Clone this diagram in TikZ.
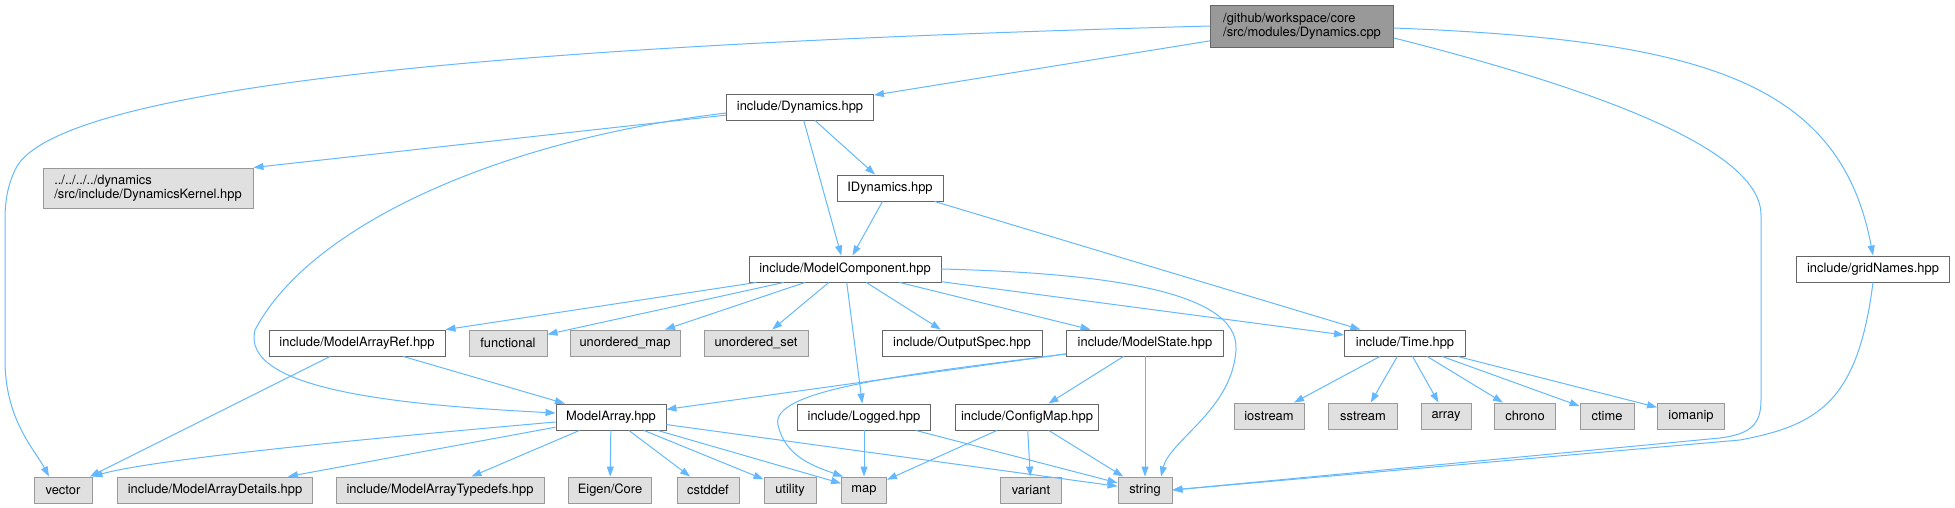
\documentclass[tikz,border=0pt]{standalone}
\usepackage{fontspec}
\setmainfont{TeX Gyre Heros}
\usetikzlibrary{arrows.meta}
\definecolor{edgeblue}{HTML}{63B8FF}
\definecolor{bordark}{HTML}{666666}
\definecolor{borlight}{HTML}{999999}
\definecolor{fillgray}{HTML}{E0E0E0}
\definecolor{rootgray}{HTML}{999999}
\newcommand{\nodefnt}{\fontsize{12.9}{14.5}\selectfont}
\tikzset{
  box/.style={draw=bordark, fill=white, line width=0.9pt, minimum height=26pt, inner sep=0pt, font=\nodefnt},
  extbox/.style={box, draw=borlight, fill=fillgray},
  rootbox/.style={box, draw=bordark, fill=rootgray, align=left, minimum height=42pt},
  edge/.style={draw=edgeblue, line width=1pt, -{Triangle[length=10pt,width=7pt]}},
}
\begin{document}
\begin{tikzpicture}[x=1pt,y=-1pt]
\useasboundingbox (0,0) rectangle (1955,508);
% nodes
\node[rootbox, minimum width=183pt] (cpp) at (1302,26) {/github/workspace/core\\/src/modules/Dynamics.cpp};
\node[box, minimum width=147pt] (dyn) at (800,107) {include/Dynamics.hpp};
\node[extbox, align=left, minimum width=210pt, minimum height=40pt] (kern) at (148,188) {../../../../dynamics\\/src/include/DynamicsKernel.hpp};
\node[box, minimum width=106pt] (idyn) at (890,188) {IDynamics.hpp};
\node[box, minimum width=153pt] (grid) at (1873,269) {include/gridNames.hpp};
\node[box, minimum width=192pt] (mc) at (845,269) {include/ModelComponent.hpp};
\node[box, minimum width=176pt] (mar) at (357,343) {include/ModelArrayRef.hpp};
\node[extbox, minimum width=78pt] (func) at (508,343) {functional};
\node[extbox, minimum width=110pt] (umap) at (625,343) {unordered\_map};
\node[extbox, minimum width=104pt] (uset) at (756,343) {unordered\_set};
\node[box, minimum width=160pt] (ospec) at (962,343) {include/OutputSpec.hpp};
\node[box, minimum width=157pt] (mstate) at (1145,343) {include/ModelState.hpp};
\node[box, minimum width=121pt] (time) at (1405,343) {include/Time.hpp};
\node[box, minimum width=110pt] (ma) at (611,417) {ModelArray.hpp};
\node[box, minimum width=133pt] (logged) at (864,417) {include/Logged.hpp};
\node[box, minimum width=143pt] (cfg) at (1027,417) {include/ConfigMap.hpp};
\node[extbox, minimum width=70pt] (iostream) at (1269,416) {iostream};
\node[extbox, minimum width=69pt] (sstream) at (1363,416) {sstream};
\node[extbox, minimum width=50pt] (array) at (1446,416) {array};
\node[extbox, minimum width=61pt] (chrono) at (1525,416) {chrono};
\node[extbox, minimum width=54pt] (ctime) at (1607,416) {ctime};
\node[extbox, minimum width=67pt] (iomanip) at (1691,416) {iomanip};
\node[extbox, minimum width=58pt] (vector) at (63,490) {vector};
\node[extbox, minimum width=195pt] (details) at (215,490) {include/ModelArrayDetails.hpp};
\node[extbox, minimum width=208pt] (typedefs) at (440,490) {include/ModelArrayTypedefs.hpp};
\node[extbox, minimum width=83pt] (eigen) at (610,490) {Eigen/Core};
\node[extbox, minimum width=62pt] (cstddef) at (708,490) {cstddef};
\node[extbox, minimum width=52pt] (utility) at (790,490) {utility};
\node[extbox, minimum width=45pt] (map) at (864,490) {map};
\node[extbox, minimum width=61pt] (variant) at (1031,490) {variant};
\node[extbox, minimum width=54pt] (string) at (1145,490) {string};
% edges from Dynamics.cpp
\draw[edge] (cpp.west) .. controls (700,40) and (60,70) .. (15,170) .. controls (8,185) and (5,200) .. (5,220) -- (5,360) .. controls (5,420) and (35,450) .. ([xshift=-14pt]vector.north);
\draw[edge] (cpp) -- (dyn);
\draw[edge] ([yshift=-12pt]cpp.east) .. controls (1600,90) and (1761,150) .. (1761,215) -- (1761,400) .. controls (1761,425) and (1750,434) .. (1720,438) -- (string.east);
\draw[edge] ([yshift=-2pt]cpp.east) .. controls (1700,40) and (1840,80) .. (grid.north);
% Dynamics.hpp
\draw[edge] (dyn) -- (kern.north east);
\draw[edge] ([yshift=-6pt]dyn.west) .. controls (500,140) and (310,225) .. (255,330) .. controls (240,390) and (400,405) .. ([yshift=4pt]ma.west);
\draw[edge] (dyn) -- (mc);
\draw[edge] (dyn) -- (idyn);
% IDynamics
\draw[edge] (idyn) -- (mc);
\draw[edge] (idyn) -- (time);
% ModelComponent
\draw[edge] (mc) -- (mar);
\draw[edge] (mc) -- (func);
\draw[edge] (mc) -- (umap);
\draw[edge] (mc) -- (uset);
\draw[edge] (mc) -- (logged);
\draw[edge] (mc) -- (ospec);
\draw[edge] (mc) -- (mstate);
\draw[edge] (mc) -- (time);
\draw[edge] (mc.east) .. controls (1100,273) and (1240,290) .. (1236,350) .. controls (1232,410) and (1170,440) .. ([xshift=16pt]string.north);
% ModelArrayRef
\draw[edge] (mar) -- (vector);
\draw[edge] (mar) -- (ma);
% ModelState
\draw[edge] (mstate) -- (ma);
\draw[edge] ([yshift=-11pt]mstate.west) .. controls (900,375) and (770,390) .. (778,425) .. controls (785,455) and (810,465) .. ([xshift=2pt]map.north west);
\draw[edge] (mstate) -- (cfg);
\draw[edge] (mstate) -- (string);
% Time
\draw[edge] (time) -- (iostream);
\draw[edge] (time) -- (sstream);
\draw[edge] (time) -- (array);
\draw[edge] (time) -- (chrono);
\draw[edge] (time) -- (ctime);
\draw[edge] (time) -- (iomanip);
% gridNames
\draw[edge] (grid.south) .. controls (1858,400) and (1820,425) .. (1740,440) -- (string.east);
% ModelArray
\draw[edge] ([yshift=-5pt]ma.west) .. controls (350,440) and (150,460) .. (vector.north east);
\draw[edge] (ma) -- (details);
\draw[edge] (ma) -- (typedefs);
\draw[edge] (ma) -- (eigen);
\draw[edge] (ma) -- (cstddef);
\draw[edge] (ma) -- (utility);
\draw[edge] (ma) -- (map);
\draw[edge] (ma) -- (string);
% Logged
\draw[edge] (logged) -- (map);
\draw[edge] (logged) -- (string);
% ConfigMap
\draw[edge] (cfg) -- (map);
\draw[edge] (cfg) -- (variant);
\draw[edge] (cfg) -- (string);
\end{tikzpicture}
\end{document}
